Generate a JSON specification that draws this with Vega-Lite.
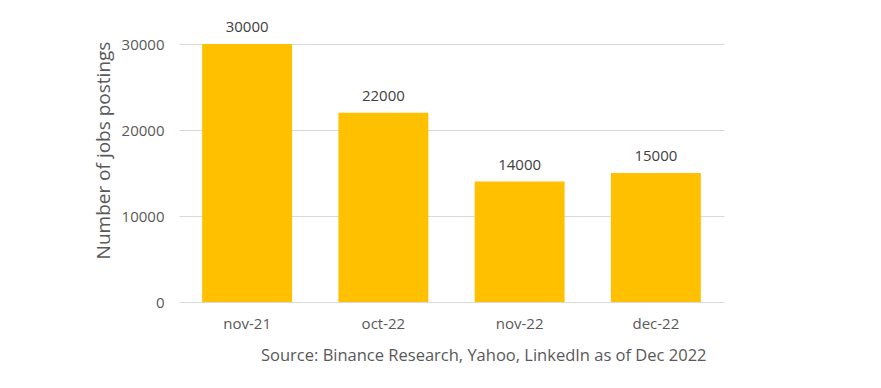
{
  "$schema": "https://vega.github.io/schema/vega-lite/v6.json",
  "width": 545,
  "height": 258,
  "autosize": {"type": "none"},
  "padding": {"left": 179, "top": 44, "right": 157, "bottom": 86},
  "background": "white",
  "config": {
    "view": {"stroke": null},
    "font": "Open Sans",
    "axis": {"labelFont": "Open Sans", "titleFont": "Open Sans", "labelColor": "#595959", "titleColor": "#595959"}
  },
  "data": {"values": [
    {"month": "nov-21", "postings": 30000},
    {"month": "oct-22", "postings": 22000},
    {"month": "nov-22", "postings": 14000},
    {"month": "dec-22", "postings": 15000}
  ]},
  "encoding": {
    "x": {
      "field": "month", "type": "nominal", "sort": null,
      "scale": {"paddingInner": 0.34, "paddingOuter": 0.17},
      "axis": {
        "labelAngle": 0, "labelFontSize": 15, "labelPadding": 14, "ticks": false,
        "domainColor": "#d9d9d9", "domainWidth": 1,
        "title": "Source: Binance Research, Yahoo, LinkedIn as of Dec 2022",
        "titleFontSize": 16.5, "titleFontWeight": "normal",
        "titleAlign": "right", "titleAnchor": null, "titleX": 527, "titleY": 53, "titleBaseline": "middle"
      }
    },
    "y": {
      "field": "postings", "type": "quantitative",
      "scale": {"domain": [0, 30000]},
      "axis": {
        "values": [0, 10000, 20000, 30000], "format": "d", "labelFontSize": 15, "labelPadding": 15, "ticks": false,
        "domain": false, "gridColor": "#d9d9d9", "grid": true,
        "title": "Number of jobs postings", "titleFontSize": 19, "titleFontWeight": "normal",
        "titleAngle": -90, "titleAlign": "center", "titleBaseline": "middle", "titleAnchor": null,
        "titleX": -76, "titleY": 106
      }
    }
  },
  "layer": [
    {"mark": {"type": "bar", "color": "#ffc000"}},
    {"mark": {"type": "text", "baseline": "middle", "dy": -17, "fontSize": 15, "color": "#404040", "font": "Open Sans"},
     "encoding": {"text": {"field": "postings", "type": "quantitative", "format": "d"}}}
  ]
}
